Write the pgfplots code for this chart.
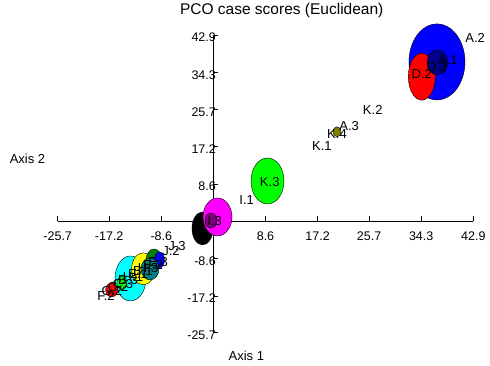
\documentclass[border=0pt]{standalone}
\usepackage{pgfplots}
\pgfplotsset{compat=1.18}
\usepackage{fontspec}
\setmainfont{Liberation Sans}
\definecolor{cBlue}{RGB}{0,0,255}
\definecolor{cRed}{RGB}{255,0,0}
\definecolor{cNavy}{RGB}{0,0,140}
\definecolor{cLime}{RGB}{0,255,0}
\definecolor{cMag}{RGB}{255,0,255}
\definecolor{cPurp}{RGB}{128,0,128}
\definecolor{cCyan}{RGB}{0,255,255}
\definecolor{cYel}{RGB}{255,255,0}
\definecolor{cDGreen}{RGB}{0,128,0}
\definecolor{cTeal}{RGB}{0,128,128}
\definecolor{cOlive}{RGB}{128,128,0}
% ellipse helper: #1 colour, #2 x radius (pt), #3 y radius (pt), #4 x, #5 y
\newcommand{\ellip}[5]{%
  \addplot[only marks, mark=*, mark size=#3pt,
    mark options={draw=none, fill=#1, xscale=#2/#3}] coordinates {(#4,#5)};}
\pgfplotstableread{
x y lab
43.2 42.2 A.2
38.7 37.1 A.1
36.9 35.5 D.3
34.4 33.9 D.2
26.3 25.6 K.2
22.4 21.9 A.3
20.4 20.1 K.4
17.9 17.3 K.1
9.3 9.0 K.3
5.5 4.9 I.1
0.2 0.05 I.3
-6.0 -5.7 J.3
-7.0 -6.9 J.2
-9.14 -9.40 E.3
-9.97 -10.09 E.2
-10.80 -10.78 H.3
-11.62 -11.57 B.1
-12.45 -12.26 E.1
-13.27 -12.95 H.1
-14.10 -13.64 B.3
-14.92 -14.56 C.3
-15.75 -15.25 C.2
-16.74 -16.18 G.2
-17.73 -17.24 F.2
}\labtab
\begin{document}
\begin{tikzpicture}
\begin{axis}[
  at={(57.7pt,32.3pt)}, anchor=south west,
  scale only axis, width=415.6pt, height=297.7pt,
  xmin=-25.7, xmax=42.9, ymin=-25.7, ymax=42.9,
  axis lines=middle, axis line style={-, black, line width=0.6pt},
  clip=false,
  xtick={-25.7,-17.2,-8.6,8.6,17.2,25.7,34.3,42.9},
  ytick={-25.7,-17.2,-8.6,8.6,17.2,25.7,34.3,42.9},
  xticklabels={-25.7,-17.2,-8.6,8.6,17.2,25.7,34.3,42.9},
  yticklabels={-25.7,-17.2,-8.6,8.6,17.2,25.7,34.3,42.9},
  tick align=inside, major tick length=5pt,
  tick style={black, line width=0.6pt},
  ticklabel style={font=\fontsize{12.5}{14}\selectfont},
  xticklabel style={anchor=north, yshift=-7pt},
  yticklabel style={anchor=east, xshift=6pt, yshift=-2.5pt},
  title={PCO case scores (Euclidean)},
  title style={at={(rel axis cs:0.539,1)}, anchor=base, yshift=15pt, font=\fontsize{15.5}{18}\selectfont},
  xlabel={Axis 1},
  xlabel style={at={(rel axis cs:0.454,0)}, anchor=base, yshift=-27.3pt, font=\fontsize{13}{15}\selectfont},
  ylabel={Axis 2},
  ylabel style={at={(rel axis cs:-0.0727,0.567)}, anchor=base, font=\fontsize{13}{15}\selectfont},
]
\ellip{cBlue}{28}{38}{36.9}{36.7}
\ellip{cRed}{13.5}{23.5}{34.4}{33.3}
\ellip{cNavy}{10.5}{12.5}{37.0}{36.6}
\ellip{cOlive}{4}{5}{20.4}{20.6}
\ellip{cLime}{16.5}{23}{8.93}{9.26}
\ellip{black}{10.5}{16.5}{-1.80}{-1.68}
\ellip{cMag}{14.5}{19}{0.68}{0.97}
\ellip{cPurp}{6}{7.5}{-0.4}{0.16}
\ellip{cCyan}{15.5}{22.5}{-13.68}{-13.2}
\ellip{cYel}{11.7}{16}{-11.57}{-10.97}
\ellip{cDGreen}{8}{11}{-9.8}{-8.94}
\ellip{cBlue}{5}{8}{-8.9}{-8.94}
\ellip{cTeal}{9}{11}{-10.47}{-11.0}
\ellip{cRed}{6}{7}{-16.8}{-15.85}
\ellip{cLime}{5}{6.5}{-15.1}{-14.24}
\addplot[only marks, mark=*, mark size=0pt, mark options={draw=none, fill=none},
  nodes near coords, point meta=explicit symbolic,
  every node near coord/.style={anchor=center, inner sep=0pt, text=black, font=\fontsize{13}{15}\selectfont}]
  table[x=x, y=y, meta=lab] {\labtab};
\end{axis}
\pgfresetboundingbox
\path[use as bounding box] (0,0) rectangle (490pt,365pt);
\end{tikzpicture}
\end{document}
